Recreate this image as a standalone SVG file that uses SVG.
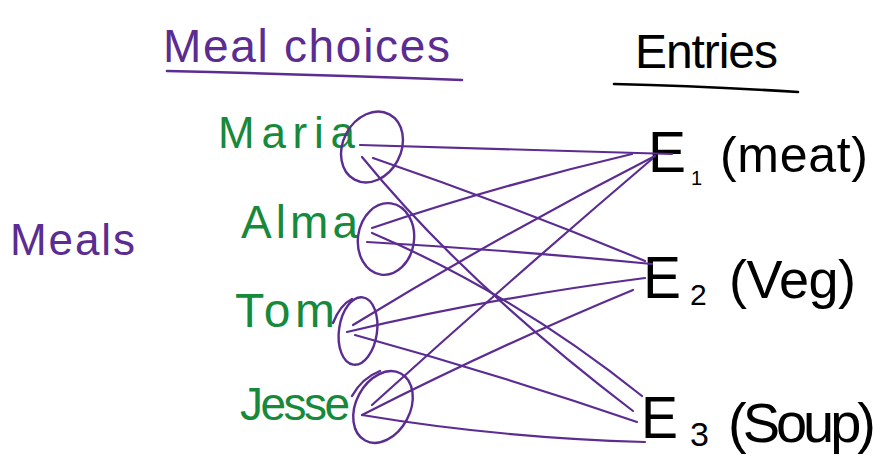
<svg xmlns="http://www.w3.org/2000/svg" width="880" height="469" viewBox="0 0 880 469">
<style>
.hp{font-family:"Liberation Sans","DejaVu Sans",sans-serif;fill:#5b2c91}
.hg{font-family:"Liberation Sans","DejaVu Sans",sans-serif;fill:#17893a}
.hk{font-family:"Liberation Sans","DejaVu Sans",sans-serif;fill:#000}
.loop{fill:none;stroke:#5b2c91;stroke-width:2.4;stroke-linecap:round}
.ul{fill:none;stroke-width:2.6;stroke-linecap:round}
#connectors path{fill:none;stroke:#5b2c91;stroke-width:2.2;stroke-linecap:round}
</style>
<rect width="880" height="469" fill="#fff"/>
<g id="title-meal-choices">
<text class="hp" x="163" y="62" font-size="46" textLength="287" lengthAdjust="spacing">Meal choices</text>
<path class="ul" stroke="#5b2c91" d="M167,71 Q300,74 462,80"/>
</g>
<g id="title-entries">
<text class="hk" x="635" y="68" font-size="48" textLength="143" lengthAdjust="spacing">Entries</text>
<path class="ul" stroke="#000" d="M614,84 Q700,86 798,92"/>
</g>
<g id="meals">
<text class="hp" x="10" y="255" font-size="44" textLength="125" lengthAdjust="spacing">Meals</text>
</g>
<g id="maria">
<text class="hg" x="218" y="148" font-size="44" textLength="137" lengthAdjust="spacing">Maria</text>
<ellipse class="loop" cx="372" cy="147" rx="29" ry="37" transform="rotate(28 372 147)"/>
</g>
<g id="alma">
<text class="hg" x="241" y="238" font-size="46" textLength="117" lengthAdjust="spacing">Alma</text>
<ellipse class="loop" cx="386" cy="239" rx="28" ry="36" transform="rotate(8 386 239)"/>
</g>
<g id="tom">
<text class="hg" x="235" y="327" font-size="48" textLength="100" lengthAdjust="spacing">Tom</text>
<ellipse class="loop" cx="358" cy="331" rx="19" ry="34" transform="rotate(8 358 331)"/>
<path class="loop" d="M333,323 Q340,305 352,299"/>
</g>
<g id="jesse">
<text class="hg" x="240" y="420" font-size="46" textLength="110" lengthAdjust="spacing">Jesse</text>
<ellipse class="loop" cx="383" cy="407" rx="27" ry="38" transform="rotate(28 383 407)"/>
<path class="loop" d="M352,396 Q362,378 380,371"/>
</g>
<g id="e1">
<text class="hk" x="648" y="172" font-size="58" textLength="38" lengthAdjust="spacingAndGlyphs">E</text>
<text class="hk" x="691" y="185" font-size="20">1</text>
<text class="hk" x="720" y="172" font-size="50" textLength="148" lengthAdjust="spacing">(meat)</text>
</g>
<g id="e2">
<text class="hk" x="643" y="298" font-size="60" textLength="38" lengthAdjust="spacingAndGlyphs">E</text>
<text class="hk" x="690" y="305" font-size="30">2</text>
<text class="hk" x="729" y="298" font-size="54" textLength="127" lengthAdjust="spacing">(Veg)</text>
</g>
<g id="e3">
<text class="hk" x="641" y="438" font-size="60" textLength="37" lengthAdjust="spacingAndGlyphs">E</text>
<text class="hk" x="690" y="446" font-size="34">3</text>
<text class="hk" x="728" y="442" font-size="56" textLength="148" lengthAdjust="spacing">(Soup)</text>
</g>
<g id="connectors">
<path d="M360,145 Q520,150 672,154"/>
<path d="M373,158 Q510,205 645,261"/>
<path d="M362,157 Q465,283 633,411"/>
<path d="M372,228 Q500,185 632,154"/>
<path d="M367,242 Q510,250 652,264"/>
<path d="M372,233 Q513,293 642,396"/>
<path d="M353,325 Q500,235 655,156"/>
<path d="M347,332 Q490,298 645,278"/>
<path d="M355,335 Q500,375 637,422"/>
<path d="M372,405 Q510,280 652,159"/>
<path d="M362,415 Q500,345 633,290"/>
<path d="M362,415 Q500,438 645,442"/>
</g>
</svg>
